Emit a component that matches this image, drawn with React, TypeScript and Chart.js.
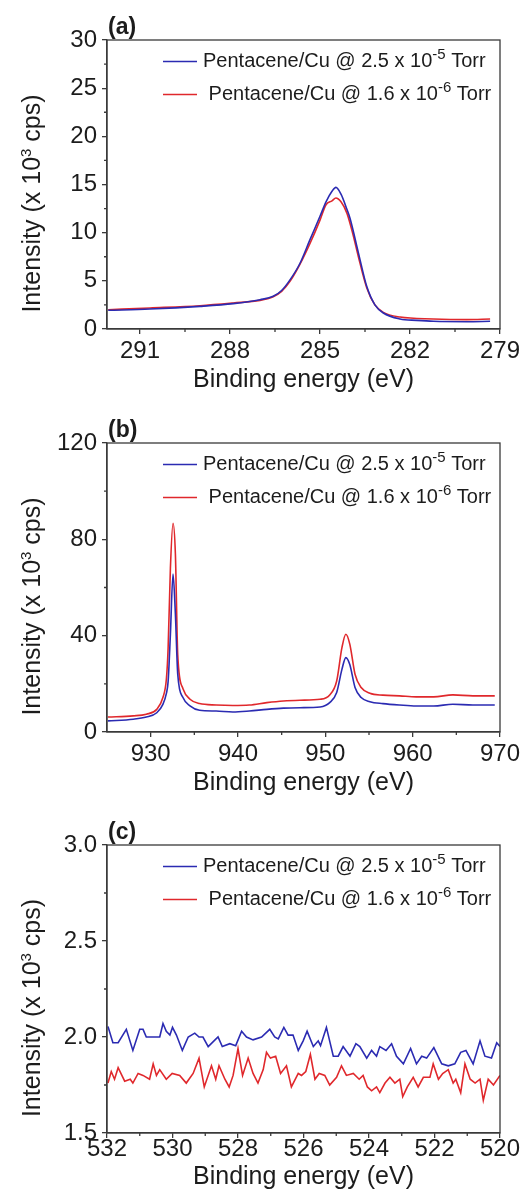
import React, { useEffect, useRef } from "react";
import { Chart, registerables } from "chart.js";

Chart.register(...registerables);

// ---------------- Data ----------------
// Panel (a): C 1s
const ENERGY_A_BLUE = [292.06, 290.67, 289.0, 287.89, 287.0, 286.56, 286.28, 286.0, 285.67, 285.33, 285.0, 284.8, 284.6, 284.47, 284.3, 284.1, 284.0, 283.72, 283.44, 283.17, 282.89, 282.33, 281.78, 281.22, 280.11, 279.33];
const INTENSITY_A_BLUE = [1.94, 2.07, 2.35, 2.63, 3.04, 3.39, 4.0, 5.1, 6.8, 9.3, 11.7, 13.2, 14.3, 14.7, 14.0, 12.4, 11.5, 7.9, 4.4, 2.5, 1.66, 1.04, 0.9, 0.8, 0.76, 0.8];
const ENERGY_A_RED = [292.06, 290.67, 289.0, 287.89, 287.0, 286.56, 286.28, 286.0, 285.67, 285.33, 285.0, 284.8, 284.6, 284.47, 284.3, 284.1, 283.9, 283.72, 283.44, 283.17, 282.89, 282.33, 281.22, 280.11, 279.33];
const INTENSITY_A_RED = [2.0, 2.18, 2.42, 2.7, 2.97, 3.35, 3.9, 4.94, 6.7, 8.9, 11.3, 12.9, 13.3, 13.6, 13.2, 12.0, 9.8, 7.5, 4.25, 2.5, 1.73, 1.24, 1.04, 0.97, 1.04];

// Panel (b): Cu 2p
const ENERGY_B = [925.1, 928.0, 929.5, 930.7, 931.4, 931.8, 932.0, 932.26, 932.56, 932.83, 933.1, 933.7, 934.5, 935.6, 937.5, 939.4, 941.3, 943.3, 945.2, 947.1, 949.4, 950.5, 951.3, 951.9, 952.35, 952.8, 953.4, 954.1, 955.1, 956.6, 958.5, 960.4, 962.4, 964.6, 966.9, 969.4];
const INTENSITY_B_BLUE = [4.6, 5.3, 6.2, 8.0, 11.5, 16, 21, 40.6, 65.6, 49, 24, 14.3, 10.8, 9.0, 8.7, 8.3, 8.7, 9.4, 9.9, 10.1, 10.4, 12.2, 16.4, 26, 30.9, 28, 18.5, 14.3, 12.6, 11.8, 11.2, 10.8, 10.8, 11.5, 11.2, 11.2];
const INTENSITY_B_RED = [6.2, 6.7, 7.4, 9.4, 14.3, 22, 35, 68, 86.7, 74, 32, 18, 13.6, 11.8, 11.2, 11.0, 11.2, 12.2, 12.9, 13.2, 13.6, 15.4, 21.2, 35, 40.6, 36.5, 24, 18.5, 16.1, 15.3, 15.0, 14.6, 14.6, 15.4, 15.0, 15.0];

// Panel (c): O 1s
const ENERGY_C_BLUE = [531.97, 531.82, 531.66, 531.41, 531.21, 531.0, 530.9, 530.8, 530.59, 530.39, 530.29, 530.19, 530.08, 530.0, 529.88, 529.7, 529.52, 529.32, 529.19, 529.07, 528.91, 528.61, 528.48, 528.25, 528.07, 527.89, 527.74, 527.54, 527.28, 527.03, 526.88, 526.77, 526.6, 526.47, 526.32, 526.16, 526.01, 525.89, 525.7, 525.55, 525.48, 525.3, 525.09, 524.94, 524.79, 524.58, 524.4, 524.28, 524.07, 523.92, 523.77, 523.67, 523.48, 523.31, 523.16, 522.95, 522.73, 522.55, 522.39, 522.24, 522.02, 521.78, 521.58, 521.38, 521.2, 521.04, 520.82, 520.61, 520.46, 520.26, 520.1, 520.0];
const INTENSITY_C_BLUE = [2.055, 1.97, 1.97, 2.04, 1.93, 2.04, 2.04, 2.0, 2.0, 2.0, 2.07, 2.03, 2.01, 2.05, 2.01, 1.93, 2.0, 2.02, 2.0, 2.0, 1.95, 2.0, 1.95, 1.965, 1.955, 2.03, 2.0, 1.985, 2.0, 2.04, 2.0, 1.99, 2.05, 2.01, 2.01, 1.93, 1.98, 2.03, 1.95, 1.98, 1.955, 2.05, 1.9, 1.9, 1.95, 1.9, 1.965, 1.95, 1.89, 1.93, 1.9, 1.95, 1.93, 1.965, 1.9, 1.86, 1.94, 1.86, 1.9, 1.89, 1.945, 1.86, 1.85, 1.86, 1.92, 1.93, 1.86, 1.98, 1.9, 1.89, 1.97, 1.95];
const ENERGY_C_RED = [531.97, 531.87, 531.77, 531.66, 531.46, 531.29, 531.21, 531.05, 530.9, 530.7, 530.59, 530.49, 530.39, 530.19, 530.01, 529.78, 529.58, 529.37, 529.19, 529.03, 528.81, 528.68, 528.58, 528.4, 528.27, 528.15, 528.0, 527.86, 527.69, 527.54, 527.39, 527.23, 527.13, 527.01, 526.85, 526.7, 526.52, 526.37, 526.16, 526.06, 525.93, 525.79, 525.65, 525.52, 525.35, 525.2, 524.99, 524.84, 524.69, 524.48, 524.3, 524.18, 524.05, 523.92, 523.77, 523.67, 523.51, 523.36, 523.21, 523.06, 522.97, 522.83, 522.65, 522.5, 522.34, 522.14, 522.04, 521.88, 521.75, 521.58, 521.43, 521.35, 521.2, 521.07, 520.91, 520.76, 520.61, 520.51, 520.36, 520.2, 520.0];
const INTENSITY_C_RED = [1.76, 1.82, 1.78, 1.84, 1.77, 1.78, 1.76, 1.81, 1.8, 1.78, 1.86, 1.8, 1.83, 1.78, 1.81, 1.8, 1.76, 1.81, 1.89, 1.74, 1.85, 1.78, 1.85, 1.78, 1.74, 1.8, 1.94, 1.8, 1.89, 1.81, 1.76, 1.83, 1.92, 1.89, 1.9, 1.81, 1.85, 1.74, 1.81, 1.8, 1.82, 1.91, 1.78, 1.81, 1.8, 1.75, 1.79, 1.85, 1.8, 1.81, 1.78, 1.8, 1.74, 1.72, 1.74, 1.71, 1.76, 1.79, 1.76, 1.78, 1.69, 1.74, 1.79, 1.74, 1.79, 1.79, 1.86, 1.78, 1.81, 1.83, 1.76, 1.78, 1.71, 1.86, 1.78, 1.76, 1.78, 1.67, 1.78, 1.75, 1.8];

// Axis ticks
const X_TICKS_A = [291, 288, 285, 282, 279];
const X_MINOR_A = [289.5, 286.5, 283.5, 280.5];
const Y_TICKS_A = [0, 5, 10, 15, 20, 25, 30];
const Y_MINOR_A = [2.5, 7.5, 12.5, 17.5, 22.5, 27.5];
const X_TICKS_B = [930, 940, 950, 960, 970];
const X_MINOR_B = [935, 945, 955, 965];
const Y_TICKS_B = [0, 40, 80, 120];
const Y_MINOR_B = [20, 60, 100];
const X_TICKS_C = [532, 530, 528, 526, 524, 522, 520];
const X_MINOR_C = [531, 529, 527, 525, 523, 521];
const Y_TICKS_C = [1.5, 2.0, 2.5, 3.0];
const Y_MINOR_C = [1.75, 2.25, 2.75];

// Texts
const PANEL_LABELS = ["(a)", "(b)", "(c)"];
const X_TITLE = "Binding energy (eV)";
const Y_TITLE_PARTS = ["Intensity (x 10", "3", " cps)"];
const LEGEND_BLUE_PARTS = ["Pentacene/Cu @ 2.5 x 10", "-5", " Torr"];
const LEGEND_RED_PARTS = [" Pentacene/Cu @ 1.6 x 10", "-6", " Torr"];

// ---------------- Styles ----------------
const FONT = '"Liberation Sans", Arial, sans-serif';
const AXIS_COLOR = "#3a3a3a";
const TEXT_COLOR = "#1c1c1c";
const BLUE = "#2b2bb2";
const RED = "#e0282c";

function toPoints(xs: number[], ys: number[]) {
  return xs.map((x, i) => ({ x, y: ys[i] }));
}

type Panel = {
  label: string;
  height: number;
  top: number;
  xAxisH: number;
  tickPad: number;
  titleOffset: number;
  xMin: number;
  xMax: number;
  reverse: boolean;
  xTicks: number[];
  xMinor: number[];
  yMin: number;
  yMax: number;
  yTicks: number[];
  yMinor: number[];
  yDecimals: number;
  blue: { x: number; y: number }[];
  red: { x: number; y: number }[];
  smooth: boolean;
};

const PANELS: Panel[] = [
  {
    label: PANEL_LABELS[0], height: 400, top: 40, xAxisH: 71, tickPad: 3, titleOffset: 58,
    xMin: 279, xMax: 292.1, reverse: true, xTicks: X_TICKS_A, xMinor: X_MINOR_A,
    yMin: 0, yMax: 30, yTicks: Y_TICKS_A, yMinor: Y_MINOR_A, yDecimals: 0,
    blue: toPoints(ENERGY_A_BLUE, INTENSITY_A_BLUE), red: toPoints(ENERGY_A_RED, INTENSITY_A_RED), smooth: true,
  },
  {
    label: PANEL_LABELS[1], height: 400, top: 43, xAxisH: 68, tickPad: 3, titleOffset: 58,
    xMin: 925, xMax: 970, reverse: false, xTicks: X_TICKS_B, xMinor: X_MINOR_B,
    yMin: 0, yMax: 120, yTicks: Y_TICKS_B, yMinor: Y_MINOR_B, yDecimals: 0,
    blue: toPoints(ENERGY_B, INTENSITY_B_BLUE), red: toPoints(ENERGY_B, INTENSITY_B_RED), smooth: true,
  },
  {
    label: PANEL_LABELS[2], height: 398, top: 45, xAxisH: 65, tickPad: -3, titleOffset: 51,
    xMin: 520, xMax: 532, reverse: true, xTicks: X_TICKS_C, xMinor: X_MINOR_C,
    yMin: 1.5, yMax: 3.0, yTicks: Y_TICKS_C, yMinor: Y_MINOR_C, yDecimals: 1,
    blue: toPoints(ENERGY_C_BLUE, INTENSITY_C_BLUE), red: toPoints(ENERGY_C_RED, INTENSITY_C_RED), smooth: false,
  },
];

function drawSup(
  ctx: CanvasRenderingContext2D,
  parts: string[],
  size: number,
  supSize: number,
  raise: number,
  align: "left" | "center",
  x: number,
  y: number
) {
  ctx.textAlign = "left";
  ctx.textBaseline = "alphabetic";
  ctx.font = `${size}px ${FONT}`;
  const w0 = ctx.measureText(parts[0]).width;
  const w2 = ctx.measureText(parts[2]).width;
  ctx.font = `${supSize}px ${FONT}`;
  const w1 = ctx.measureText(parts[1]).width;
  const total = w0 + w1 + w2;
  let sx = align === "center" ? x - total / 2 : x;
  ctx.font = `${size}px ${FONT}`;
  ctx.fillText(parts[0], sx, y);
  sx += w0;
  ctx.font = `${supSize}px ${FONT}`;
  ctx.fillText(parts[1], sx, y - raise);
  sx += w1;
  ctx.font = `${size}px ${FONT}`;
  ctx.fillText(parts[2], sx, y);
}

function overlayPlugin(p: Panel) {
  return {
    id: "overlay",
    afterDraw(chart: any) {
      const ctx: CanvasRenderingContext2D = chart.ctx;
      const a = chart.chartArea;
      const xs = chart.scales.x;
      const ys = chart.scales.y;
      ctx.save();
      // frame
      ctx.strokeStyle = AXIS_COLOR;
      ctx.lineWidth = 1.3;
      ctx.strokeRect(a.left, a.top, a.right - a.left, a.bottom - a.top);
      // minor ticks
      ctx.beginPath();
      p.xMinor.forEach((v) => {
        const x = xs.getPixelForValue(v);
        ctx.moveTo(x, a.bottom);
        ctx.lineTo(x, a.bottom + 3);
      });
      p.yMinor.forEach((v) => {
        const y = ys.getPixelForValue(v);
        ctx.moveTo(a.left, y);
        ctx.lineTo(a.left - 3, y);
      });
      ctx.stroke();
      // panel label
      ctx.fillStyle = TEXT_COLOR;
      ctx.font = `bold 23px ${FONT}`;
      ctx.textAlign = "left";
      ctx.textBaseline = "alphabetic";
      ctx.fillText(p.label, a.left + 1, a.top - 6);
      // x title
      ctx.font = `25px ${FONT}`;
      ctx.textAlign = "center";
      ctx.fillText(X_TITLE, (a.left + a.right) / 2, a.bottom + p.titleOffset);
      // y title
      ctx.save();
      ctx.translate(40, (a.top + a.bottom) / 2 + 19);
      ctx.rotate(-Math.PI / 2);
      drawSup(ctx, Y_TITLE_PARTS, 25, 15, 9, "center", 0, 0);
      ctx.restore();
      // legend
      const items = [
        { color: BLUE, parts: LEGEND_BLUE_PARTS },
        { color: RED, parts: LEGEND_RED_PARTS },
      ];
      items.forEach((item, i) => {
        const ly = a.top + 21.5 + i * 33;
        ctx.strokeStyle = item.color;
        ctx.lineWidth = 1.6;
        ctx.beginPath();
        ctx.moveTo(a.left + 56, ly);
        ctx.lineTo(a.left + 90, ly);
        ctx.stroke();
        ctx.fillStyle = TEXT_COLOR;
        drawSup(ctx, item.parts, 20, 15, 7.5, "left", a.left + 96, ly + 5);
      });
      ctx.restore();
    },
  };
}

function PanelChart({ panel }: { panel: Panel }) {
  const ref = useRef<HTMLCanvasElement>(null);
  useEffect(() => {
    if (!ref.current) return;
    const tickFont = { family: FONT, size: 24 };
    const chart = new Chart(ref.current, {
      type: "line",
      data: {
        datasets: [
          {
            label: LEGEND_BLUE_PARTS.join(""),
            data: panel.blue,
            borderColor: BLUE,
            borderWidth: 1.6,
            pointRadius: 0,
            fill: false,
            cubicInterpolationMode: panel.smooth ? "monotone" : "default",
            tension: 0,
          },
          {
            label: LEGEND_RED_PARTS.join(""),
            data: panel.red,
            borderColor: RED,
            borderWidth: 1.6,
            pointRadius: 0,
            fill: false,
            cubicInterpolationMode: panel.smooth ? "monotone" : "default",
            tension: 0,
          },
        ],
      },
      options: {
        responsive: false,
        animation: false,
        devicePixelRatio: 1,
        events: [],
        layout: { padding: { left: 0, right: 23, top: panel.top, bottom: 0 } },
        plugins: { legend: { display: false }, tooltip: { enabled: false } },
        scales: {
          x: {
            type: "linear",
            min: panel.xMin,
            max: panel.xMax,
            reverse: panel.reverse,
            afterBuildTicks: (s: any) => {
              s.ticks = panel.xTicks.map((v) => ({ value: v }));
            },
            afterFit: (s: any) => {
              s.height = panel.xAxisH;
              s.paddingLeft = 0;
              s.paddingRight = 0;
            },
            ticks: {
              font: tickFont,
              color: TEXT_COLOR,
              padding: panel.tickPad,
              maxRotation: 0,
              autoSkip: false,
              callback: (v: any) => String(v),
            },
            grid: {
              display: true,
              drawOnChartArea: false,
              drawTicks: true,
              tickLength: 5,
              color: AXIS_COLOR,
              lineWidth: 1.3,
            },
            border: { display: true, color: AXIS_COLOR, width: 1.3 },
          },
          y: {
            type: "linear",
            min: panel.yMin,
            max: panel.yMax,
            afterBuildTicks: (s: any) => {
              s.ticks = panel.yTicks.map((v) => ({ value: v }));
            },
            afterFit: (s: any) => {
              s.width = 107;
              s.paddingTop = 0;
              s.paddingBottom = 0;
            },
            ticks: {
              font: tickFont,
              color: TEXT_COLOR,
              padding: 5,
              autoSkip: false,
              callback: (v: any) => Number(v).toFixed(panel.yDecimals),
            },
            grid: {
              display: true,
              drawOnChartArea: false,
              drawTicks: true,
              tickLength: 5,
              color: AXIS_COLOR,
              lineWidth: 1.3,
            },
            border: { display: true, color: AXIS_COLOR, width: 1.3 },
          },
        },
      },
      plugins: [overlayPlugin(panel)],
    } as any);
    return () => chart.destroy();
  }, [panel]);
  return (
    <canvas
      ref={ref}
      width={523}
      height={panel.height}
      style={{ display: "block", width: 523, height: panel.height }}
    />
  );
}

export default function App() {
  useEffect(() => {
    document.body.style.margin = "0";
    document.body.style.background = "#ffffff";
  }, []);
  return (
    <div style={{ width: 523, background: "#ffffff" }}>
      {PANELS.map((p) => (
        <PanelChart key={p.label} panel={p} />
      ))}
    </div>
  );
}
